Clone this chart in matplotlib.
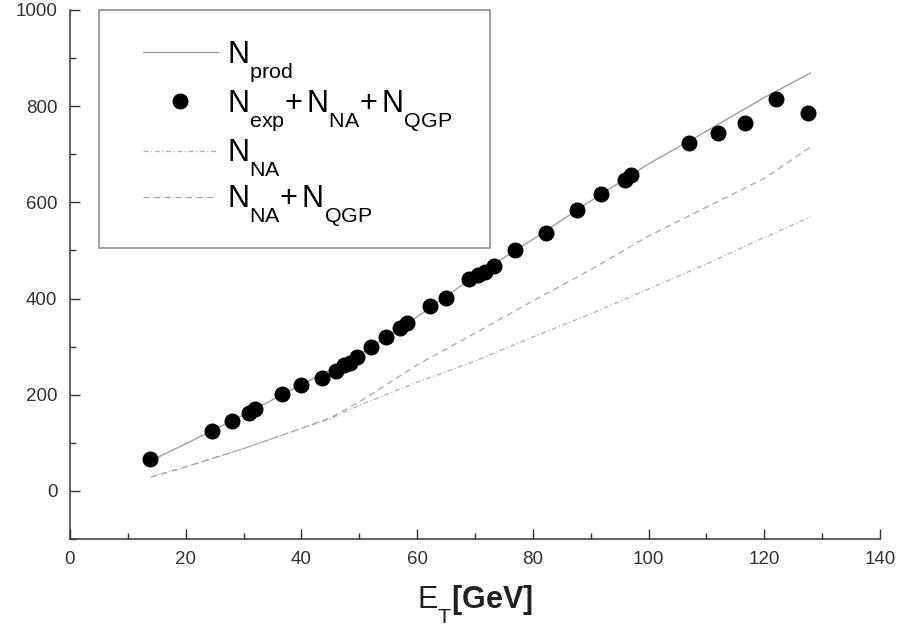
"""N_prod versus transverse energy E_T: measured points and model curves."""

import matplotlib

matplotlib.use("Agg")
import matplotlib.pyplot as plt
from matplotlib import _mathtext
from matplotlib.patches import Rectangle
from matplotlib.ticker import MultipleLocator

plt.rcParams["font.family"] = ["Liberation Sans", "DejaVu Sans"]
plt.rcParams["mathtext.fontset"] = "custom"
plt.rcParams["mathtext.rm"] = "Liberation Sans"
plt.rcParams["mathtext.it"] = "Liberation Sans:italic"
plt.rcParams["mathtext.bf"] = "Liberation Sans:bold"
# the original figure drops its subscripts well below the baseline
_mathtext.FontConstantsBase.sub1 = 0.9

# measured N_exp + N_NA + N_QGP
et_points = [13.8, 24.5, 28.0, 31.0, 32.0, 36.6, 40.0, 43.5, 46.0, 47.4, 48.4,
             49.6, 52.0, 54.6, 57.0, 58.2, 62.2, 65.0, 69.0, 70.5, 71.7, 73.2,
             77.0, 82.2, 87.7, 91.7, 96.0, 97.0, 107.0, 112.0, 116.6, 122.0,
             127.5]
n_points = [67, 125, 146, 162, 171, 202, 221, 235, 250, 262, 267,
            279, 300, 321, 338, 350, 385, 402, 440, 448, 456, 467,
            500, 537, 585, 617, 646, 656, 723, 744, 765, 815,
            785]

# N_prod curve
et_prod = [14, 20, 30, 40, 50, 60, 70, 80, 90, 100, 110, 120, 128]
n_prod = [63, 98, 158, 221, 283, 362, 447, 523, 603, 680, 748, 818, 869]

# N_NA + N_QGP curve
et_qgp = [14, 20, 30, 40, 45, 50, 60, 70, 80, 90, 100, 110, 120, 128]
n_qgp = [29, 50, 88, 130, 152, 185, 262, 328, 395, 460, 530, 590, 650, 715]

# N_NA curve
et_na = [14, 20, 30, 40, 45, 50, 60, 70, 80, 90, 100, 110, 118, 128]
n_na = [29, 50, 88, 130, 150, 178, 226, 270, 320, 368, 420, 472, 516, 570]

fig = plt.figure(figsize=(9.03, 6.34), dpi=100)
ax = fig.add_axes([70 / 903, 1 - 539 / 634, 810 / 903, 529 / 634])

prod_line, = ax.plot(et_prod, n_prod, color="#a0a0a0", linewidth=1.0,
                     label=r"$\mathrm{N_{prod}}$")
pts, = ax.plot(et_points, n_points, "o", color="black", markersize=10.5,
               linestyle="none",
               label=r"$\mathrm{N_{exp}{+}\,N_{NA}{+}\,N_{QGP}}$")
na_line, = ax.plot(et_na, n_na, color="#b0b0b0", linewidth=0.9,
                   linestyle=(0, (4, 2, 1, 2)), label=r"$\mathrm{N_{NA}}$")
qgp_line, = ax.plot(et_qgp, n_qgp, color="#a8a8a8", linewidth=0.9,
                    linestyle=(0, (5, 3.5)),
                    label=r"$\mathrm{N_{NA}{+}\,N_{QGP}}$")

ax.set_xlim(0, 140)
ax.set_ylim(-100, 1000)
ax.xaxis.set_major_locator(MultipleLocator(20))
ax.xaxis.set_minor_locator(MultipleLocator(10))
ax.yaxis.set_major_locator(MultipleLocator(200))
ax.yaxis.set_minor_locator(MultipleLocator(100))
ax.set_yticks([0, 200, 400, 600, 800, 1000])

for side in ("top", "right"):
    ax.spines[side].set_visible(False)
for side in ("left", "bottom"):
    ax.spines[side].set_color("#333333")
    ax.spines[side].set_linewidth(1.1)

ax.tick_params(which="major", direction="in", length=7, width=1.0,
               color="#333333", labelsize=13.5, labelcolor="#333333", pad=9)
ax.tick_params(which="minor", direction="in", length=4.5, width=1.0,
               color="#333333")

ax.set_xlabel(r"$\mathrm{E_T}\mathbf{[GeV]}$", fontsize=22, color="#222222",
              labelpad=11)

# legend frame drawn separately so it matches the boxed area
ax.add_patch(Rectangle((0.036, 0.55), 0.483, 0.45, transform=ax.transAxes,
                       fill=False, edgecolor="#999999", linewidth=1.3,
                       clip_on=False, zorder=3))
ax.legend(handles=[prod_line, pts, na_line, qgp_line], loc="upper left",
          bbox_to_anchor=(0.06, 0.99), frameon=False, fontsize=22,
          handlelength=2.45, handletextpad=0.3, labelspacing=0.15,
          borderpad=0.3)

fig.savefig("out.png", dpi=100)
